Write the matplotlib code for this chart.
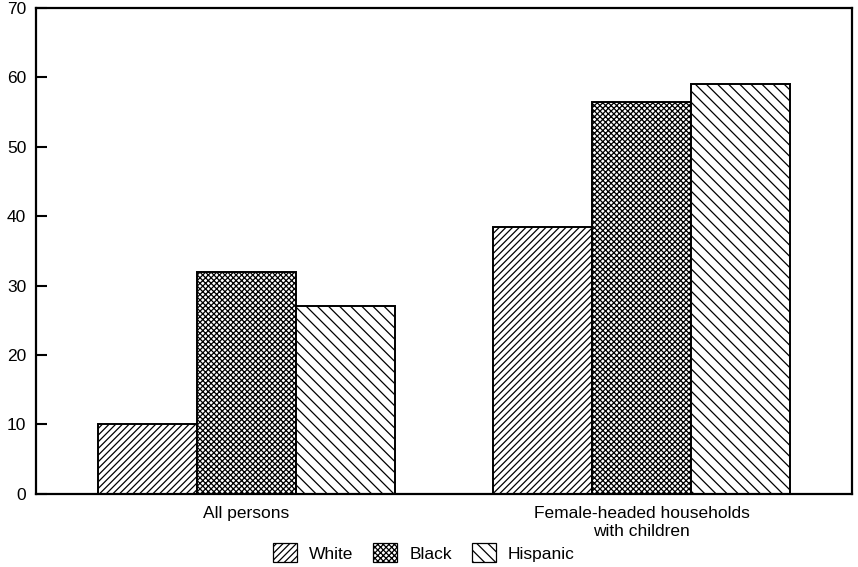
import numpy as np
import matplotlib.pyplot as plt
from matplotlib.patches import Patch

plt.rcParams['font.family'] = ['Liberation Sans', 'DejaVu Sans']
plt.rcParams['hatch.linewidth'] = 0.9

# data
groups = ['All persons', 'Female-headed households\nwith children']
series = ['White', 'Black', 'Hispanic']
white = [10.1, 38.4]
black = [32.0, 56.4]
hispanic = [27.0, 59.1]
hatches = ['/////', 'xxxxxx', '\\\\\\']

fig = plt.figure(figsize=(8.58, 5.67), dpi=100)
ax = fig.add_axes([0.042, 0.129, 0.951, 0.857])

x = np.arange(len(groups))
w = 0.25
for i, (vals, h) in enumerate(zip([white, black, hispanic], hatches)):
    ax.bar(x + (i - 1) * w, vals, w, color='white', edgecolor='black',
           linewidth=1.4, hatch=h)

ax.set_xlim(-0.531, 1.531)
ax.set_ylim(0, 70)
ax.set_yticks(range(0, 71, 10))
ax.set_xticks(x)
ax.set_xticklabels(groups, fontsize=12.5, linespacing=1.2)
ax.tick_params(axis='x', length=0, pad=9)
ax.tick_params(axis='y', direction='in', length=8, width=1.5, pad=7, labelsize=12.5)
for s in ax.spines.values():
    s.set_linewidth(1.6)

handles = [Patch(facecolor='white', edgecolor='black', hatch=h, linewidth=0.9)
           for h in hatches]
fig.legend(handles, series, loc='center', bbox_to_anchor=(0.494, 0.025), ncol=3,
           frameon=False, fontsize=12.5, handlelength=1.38, handleheight=1.32,
           columnspacing=1.15, handletextpad=0.7, borderpad=0.1)

plt.savefig('out.png', dpi=100)
